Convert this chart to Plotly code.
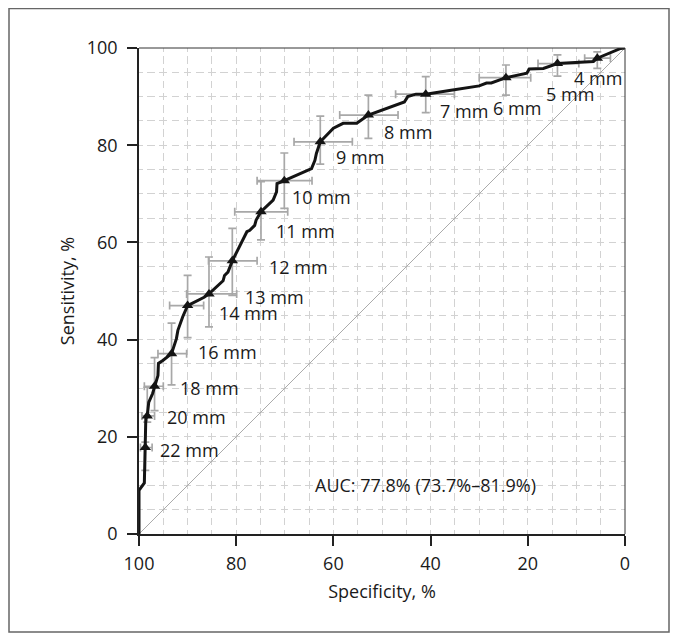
import plotly.graph_objects as go

# ROC curve vertices (specificity %, sensitivity %)
curve_spec = [100, 100, 98.9, 98.7, 98.6, 98.3, 98.0, 97.2, 96.8, 96.1, 96.0, 95.1, 93.3, 92.3, 92.0,
              91.0, 90.0, 86.6, 85.6, 82.7, 82.4, 81.7, 80.8, 77.8, 77.2, 76.2, 75.9, 74.9, 72.4,
              71.7, 71.6, 70.1, 64.5, 63.8, 63.5, 62.7, 60.0, 58.0, 55.2, 52.8, 45.4, 44.7, 43.0,
              41.0, 35.8, 30.0, 28.5, 27.5, 24.5, 20.2, 19.7, 16.8, 13.9, 6.5, 5.7, 0.9, 0]
curve_sens = [0, 9.0, 10.5, 17.8, 23.7, 24.3, 27.1, 28.9, 30.4, 32.6, 35.1, 35.7, 37.1, 40.2, 41.9,
              44.7, 47.0, 48.7, 49.4, 52.1, 53.2, 53.9, 56.2, 62.2, 62.5, 63.5, 64.6, 66.3, 68.7,
              70.4, 72.1, 72.7, 75.2, 76.9, 78.3, 80.7, 83.5, 84.5, 84.5, 86.2, 88.9, 90.0, 90.5,
              90.5, 91.3, 92.2, 92.8, 92.8, 93.9, 94.8, 95.7, 95.8, 96.8, 97.2, 97.9, 99.9, 100]

# Cut-off points
cut_labels = ["4 mm", "5 mm", "6 mm", "7 mm", "8 mm", "9 mm", "10 mm", "11 mm", "12 mm",
              "13 mm", "14 mm", "16 mm", "18 mm", "20 mm", "22 mm"]
cut_spec = [5.7, 13.9, 24.5, 41.0, 52.8, 62.7, 70.1, 74.9, 80.8, 85.6, 90.0, 93.3, 96.8, 98.3, 98.7]
cut_sens = [97.9, 96.8, 93.9, 90.5, 86.2, 80.7, 72.7, 66.3, 56.2, 49.4, 47.0, 37.1, 30.4, 24.3, 17.8]
spec_lo = [3.0, 9.5, 19.4, 35.1, 46.7, 56.1, 64.4, 69.4, 75.7, 79.9, 86.7, 90.2, 95.0, 96.8, 97.3]
spec_hi = [8.3, 17.9, 30.0, 47.2, 58.7, 68.1, 75.7, 80.3, 85.7, 90.2, 93.7, 96.1, 98.9, 99.4, 99.7]
sens_lo = [95.8, 94.2, 90.3, 86.7, 81.4, 76.1, 67.0, 60.5, 49.1, 42.6, 40.4, 30.7, 25.4, 23.0, 13.1]
sens_hi = [99.2, 98.6, 96.5, 94.1, 90.3, 86.0, 78.4, 72.5, 62.9, 57.0, 53.2, 43.4, 36.3, 30.2, 18.9]

# Label anchor positions (left-middle of text), in data units
label_spec = [10.8, 16.5, 27.3, 38.2, 49.8, 59.7, 68.7, 72.1, 73.5, 78.3, 83.8, 88.1, 91.7, 94.5, 95.9]
label_sens = [93.8, 90.5, 87.6, 87.0, 82.8, 77.6, 69.4, 62.3, 55.0, 48.8, 45.4, 37.4, 30.1, 24.1, 17.2]

ref_x = [100, 0]
ref_y = [0, 100]
tick_vals = [0, 20, 40, 60, 80, 100]
auc_text = "AUC: 77.8% (73.7%–81.9%)"

FONT = "Open Sans"
FS = 18
TXT = "#1a1a1a"
GRID = "#d2d2d2"
EB = "#a8a8a8"

fig = go.Figure()

fig.add_trace(go.Scatter(x=ref_x, y=ref_y, mode="lines",
                         line=dict(color="#ababab", width=1), hoverinfo="skip"))

fig.add_trace(go.Scatter(
    x=cut_spec, y=cut_sens, mode="markers",
    marker=dict(size=1, opacity=0),
    error_x=dict(type="data", symmetric=False,
                 array=[h - x for h, x in zip(spec_hi, cut_spec)],
                 arrayminus=[x - l for l, x in zip(spec_lo, cut_spec)],
                 color=EB, thickness=1.7, width=4),
    error_y=dict(type="data", symmetric=False,
                 array=[h - y for h, y in zip(sens_hi, cut_sens)],
                 arrayminus=[y - l for l, y in zip(sens_lo, cut_sens)],
                 color=EB, thickness=1.7, width=4),
    hoverinfo="skip"))

fig.add_trace(go.Scatter(x=curve_spec, y=curve_sens, mode="lines",
                         line=dict(color="#141414", width=3), hoverinfo="skip"))

fig.add_trace(go.Scatter(x=cut_spec, y=cut_sens, mode="markers",
                         marker=dict(symbol="triangle-up", size=10, color="#141414"),
                         hoverinfo="skip"))

for lab, lx, ly in zip(cut_labels, label_spec, label_sens):
    fig.add_annotation(x=lx, y=ly, text=lab, showarrow=False, xanchor="left", yanchor="middle",
                       font=dict(family=FONT, size=FS, color=TXT), borderpad=0)

fig.add_annotation(x=41, y=10, text=auc_text, showarrow=False, xanchor="center", yanchor="middle",
                   font=dict(family=FONT, size=FS, color=TXT))

grid_dash = "3.8px,4.54px,3.8px,0px"
axis_common = dict(
    tickvals=tick_vals, ticks="outside", ticklen=10, tickwidth=1.5, tickcolor="#222",
    showline=True, linewidth=1.5, linecolor="#222", zeroline=False,
    showgrid=True, gridcolor=GRID, gridwidth=1, griddash=grid_dash,
    minor=dict(dtick=5, showgrid=True, gridcolor=GRID, gridwidth=1, griddash=grid_dash, ticks=""),
    tickfont=dict(family=FONT, size=FS, color=TXT),
)

# page is offset by the 8px body margin; plot area sits at page x 139-625, y 48-534
L, T, PW, PH = 131, 40, 486, 486
fig.update_layout(
    width=678, height=638,
    margin=dict(l=L, r=678 - L - PW, t=T, b=638 - T - PH),
    paper_bgcolor="white", plot_bgcolor="white",
    showlegend=False,
    xaxis=dict(range=[100, 0], title=dict(text="Specificity, %", font=dict(family=FONT, size=FS, color=TXT), standoff=11),
               ticklabelstandoff=3, **axis_common),
    yaxis=dict(range=[0, 100], title=dict(text="Sensitivity, %", font=dict(family=FONT, size=FS, color=TXT), standoff=7),
               ticklabelstandoff=6, **axis_common),
    shapes=[
        dict(type="line", xref="paper", yref="paper", x0=0, x1=1, y0=1, y1=1,
             line=dict(color="#333", width=1), layer="above"),
        dict(type="line", xref="paper", yref="paper", x0=1, x1=1, y0=0, y1=1,
             line=dict(color="#333", width=1), layer="above"),
        dict(type="rect", xref="paper", yref="paper",
             x0=(1 - L) / PW, x1=(661 - L) / PW,
             y0=(T + PH - 624) / PH, y1=(T + PH - 0.5) / PH,
             line=dict(color="#666", width=1.5), layer="above"),
    ],
)

fig.write_html("out.html")
